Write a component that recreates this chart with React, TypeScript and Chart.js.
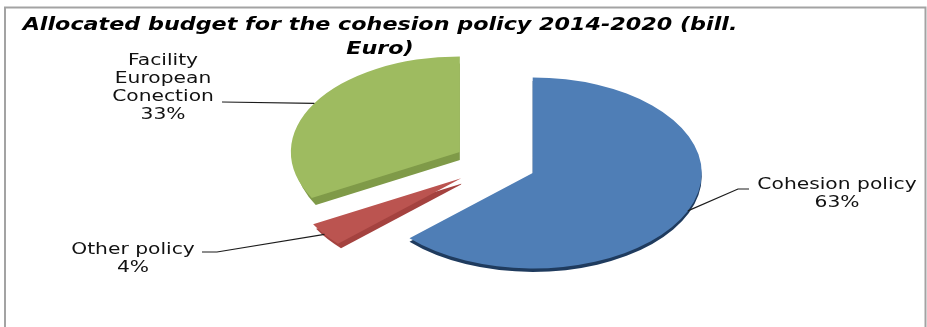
import { useEffect, useRef } from "react";
import { Chart, registerables } from "chart.js";

Chart.register(...registerables);

const chartTitle = ["Allocated budget for the cohesion policy 2014-2020 (bill.", "Euro)"];
const categories: (string | string[])[] = ["Cohesion policy", "Other policy", ["Facility", "European", "Conection"]];
const shares = [63, 4, 33];
const faceColors = ["#4f7eb6", "#bb5450", "#9ebb60"];
const wallColors = ["#1f3b5e", "#a4423f", "#7f9a48"];

// How far each slice is pulled out of the disc, and how its side wall is displaced.
const explosion = [40, 43, 42];
const wallDrop = [3.5, 4.5, 7];
const wallDrift = [0, 3, 4];

// The flat pie is squashed and moved so it reads as a tilted disc.
const pieCenter = { x: 496, y: 164 };
const tilt = 0.565;
const FONT = "'DejaVu Sans', Verdana, sans-serif";
const TITLE_CENTER = 380;
const TITLE_STRETCH = 1.236;
const LABEL_STRETCH = 1.35;

// Where each data label sits and where its leader line bends.
const calloutLayout = [
  { cx: 837, cy: 185, bend: [[738, 189], [749, 189]] },
  { cx: 133, cy: 250, bend: [[217, 252], [202, 252]] },
  { cx: 163, cy: 61, bend: [[222, 102]] },
];

const frame = { left: 5, top: 7.5, right: 925.5 };

function arcGeometry(arc: any) {
  return arc.getProps(["x", "y", "startAngle", "endAngle", "outerRadius"], true);
}

const tiltPlugin = {
  id: "tiltedPie",
  beforeDraw(chart: any) {
    const { ctx, height } = chart;
    ctx.save();
    ctx.strokeStyle = "#a3a3a3";
    ctx.lineWidth = 2;
    ctx.beginPath();
    ctx.moveTo(frame.left, height);
    ctx.lineTo(frame.left, frame.top);
    ctx.lineTo(frame.right, frame.top);
    ctx.lineTo(frame.right, height);
    ctx.stroke();
    ctx.restore();
    // The title box is painted next, inside this wide transform.
    ctx.save();
    ctx.translate(TITLE_CENTER, 0);
    ctx.scale(TITLE_STRETCH, 1);
    ctx.translate(-TITLE_CENTER, 0);
  },
  beforeDatasetsDraw(chart: any) {
    chart.ctx.restore();
  },
  beforeDatasetDraw(chart: any) {
    const { ctx, width, height } = chart;
    const arcs = chart.getDatasetMeta(0).data;
    const { x: ax, y: ay } = arcGeometry(arcs[0]);
    ctx.save();
    ctx.translate(pieCenter.x, pieCenter.y);
    ctx.scale(1, tilt);
    ctx.translate(-ax, -ay);
    arcs.forEach((arc: any, i: number) => {
      const { x, y, startAngle, endAngle, outerRadius } = arcGeometry(arc);
      const mid = (startAngle + endAngle) / 2;
      const dx = Math.cos(mid) * explosion[i];
      const dy = Math.sin(mid) * explosion[i];
      const wx = x + dx + wallDrift[i];
      const wy = y + dy + wallDrop[i] / tilt;
      // Side wall first: a darker copy of the slice, kept behind the slice's right end.
      ctx.save();
      if (wallDrift[i] > 0) {
        ctx.beginPath();
        ctx.rect(-width, -height * 2, width + x + dx, height * 6);
        ctx.clip();
      }
      ctx.fillStyle = wallColors[i];
      ctx.beginPath();
      ctx.moveTo(wx, wy);
      ctx.arc(wx, wy, outerRadius, startAngle, endAngle);
      ctx.closePath();
      ctx.fill();
      ctx.restore();
      ctx.save();
      ctx.translate(dx, dy);
      arc.draw(ctx);
      ctx.restore();
    });
    ctx.restore();
    return false;
  },
  afterDatasetsDraw(chart: any) {
    const { ctx } = chart;
    const arcs = chart.getDatasetMeta(0).data;
    const { x: ax, y: ay } = arcGeometry(arcs[0]);
    ctx.save();
    ctx.font = `15px ${FONT}`;
    ctx.textAlign = "center";
    ctx.textBaseline = "middle";
    arcs.forEach((arc: any, i: number) => {
      const { x, y, startAngle, endAngle, outerRadius } = arcGeometry(arc);
      const mid = (startAngle + endAngle) / 2;
      const reach = explosion[i] + outerRadius;
      const sx = pieCenter.x + (x - ax) + Math.cos(mid) * reach;
      const sy = pieCenter.y + (y - ay + Math.sin(mid) * reach) * tilt;
      const layout = calloutLayout[i];
      ctx.strokeStyle = "#1c1c1c";
      ctx.lineWidth = 1.2;
      ctx.beginPath();
      ctx.moveTo(sx, sy);
      layout.bend.forEach(([bx, by]) => ctx.lineTo(bx, by));
      ctx.stroke();

      const name = categories[i];
      const lines = [...(Array.isArray(name) ? name : [name]), `${shares[i]}%`];
      ctx.fillStyle = "#111111";
      lines.forEach((line, k) => {
        ctx.save();
        ctx.translate(layout.cx, layout.cy + k * 18.2);
        ctx.scale(LABEL_STRETCH, 1);
        ctx.fillText(line, 0, 0);
        ctx.restore();
      });
    });
    ctx.restore();
  },
};

export default function App() {
  const ref = useRef<HTMLCanvasElement>(null);
  useEffect(() => {
    const chart = new Chart(ref.current!, {
      type: "pie",
      data: {
        labels: categories as any,
        datasets: [
          {
            data: shares,
            backgroundColor: faceColors,
            borderWidth: 0,
            radius: 169,
            clip: false,
          } as any,
        ],
      },
      options: {
        responsive: false,
        animation: false,
        layout: { padding: { top: 13, right: 167 } },
        plugins: {
          legend: { display: false },
          tooltip: { enabled: false },
          title: {
            display: true,
            fullSize: false,
            text: chartTitle,
            color: "#000000",
            font: { family: FONT, size: 18, weight: "bold", style: "italic", lineHeight: 1.33 },
            padding: 0,
          } as any,
        },
      },
      plugins: [tiltPlugin],
    });
    return () => chart.destroy();
  }, []);
  return (
    <canvas
      ref={ref}
      width={927}
      height={327}
      style={{ position: "absolute", left: 0, top: 0, display: "block" }}
    />
  );
}
